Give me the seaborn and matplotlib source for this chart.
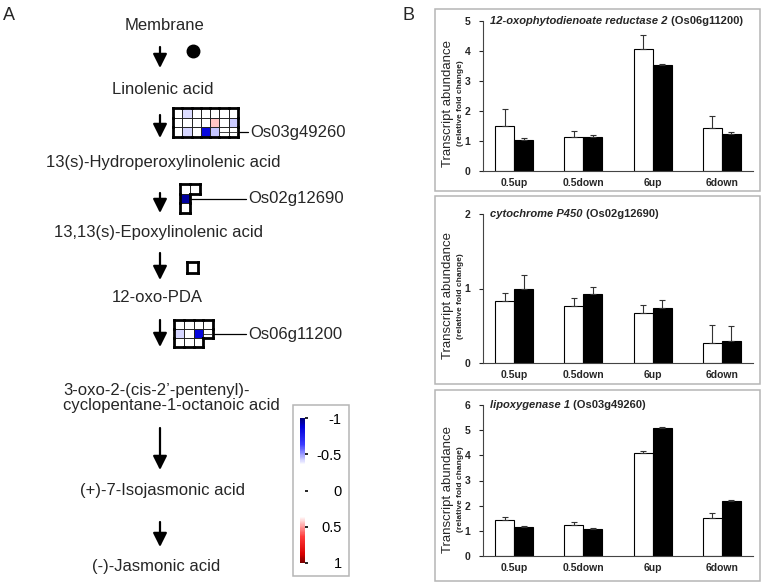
import numpy as np
import pandas as pd
import matplotlib
matplotlib.use('Agg')
import matplotlib.pyplot as plt
import seaborn as sns
from matplotlib.colors import LinearSegmentedColormap
from matplotlib.patches import Rectangle

W, H = 764, 585

# ---- panel B data ----
groups = ['0.5up', '0.5down', '6up', '6down']

opr2_open = [1.50, 1.12, 4.08, 1.42]
opr2_filled = [1.04, 1.14, 3.53, 1.22]
opr2_open_err = [0.58, 0.23, 0.44, 0.40]
opr2_filled_err = [0.06, 0.06, 0.04, 0.08]

p450_open = [0.83, 0.77, 0.67, 0.27]
p450_filled = [1.00, 0.93, 0.74, 0.30]
p450_open_err = [0.11, 0.10, 0.11, 0.24]
p450_filled_err = [0.18, 0.09, 0.10, 0.19]

lox1_open = [1.43, 1.24, 4.08, 1.52]
lox1_filled = [1.15, 1.08, 5.08, 2.17]
lox1_open_err = [0.12, 0.12, 0.10, 0.18]
lox1_filled_err = [0.03, 0.04, 0.04, 0.07]

gene_names = ['12-oxophytodienoate reductase 2', 'cytochrome P450', 'lipoxygenase 1']
gene_ids = ['Os06g11200', 'Os02g12690', 'Os03g49260']
y_max = [5, 2, 6]

# ---- panel A data ----
pathway = ['Membrane', 'Linolenic acid', '13(s)-Hydroperoxylinolenic acid',
           '13,13(s)-Epoxylinolenic acid', '12-oxo-PDA',
           '3-oxo-2-(cis-2\u2019-pentenyl)-\ncyclopentane-1-octanoic acid',
           '(+)-7-Isojasmonic acid', '(-)-Jasmonic acid']

grid_os03g49260 = [[0, -0.41, 0, 0, 0, 0, 0],
                   [0, 0, 0, 0, 0.44, 0, -0.43],
                   [0, -0.42, 0, -0.85, -0.44, 0, 0]]
grid_os02g12690 = [[0, 0],
                   [-0.95, np.nan],
                   [0, np.nan]]
grid_aos = [[0]]
grid_os06g11200 = [[0, 0, 0, 0],
                   [-0.42, 0, -0.85, 0],
                   [0, 0, 0, np.nan]]
cbar_ticks = [-1, -0.5, 0, 0.5, 1]

sns.set_theme(style='white')
plt.rcParams['font.family'] = ['Liberation Sans', 'DejaVu Sans']

fig = plt.figure(figsize=(7.64, 5.85), dpi=100)


def px_axes(x0, y0, x1, y1):
    return fig.add_axes([x0 / W, 1 - y1 / H, (x1 - x0) / W, (y1 - y0) / H])


# overlay in pixel coordinates for the pathway drawing and frames
ov = fig.add_axes([0, 0, 1, 1])
ov.set_xlim(0, W)
ov.set_ylim(H, 0)
ov.axis('off')

ov.text(9, 16, 'A', fontsize=13, ha='center', va='center')
ov.text(408, 16, 'B', fontsize=13, ha='center', va='center')

# pathway compounds
fs = 12
text_pos = [(164, 26), (163, 89), (163, 162), (158, 233), (157, 297),
            (63, 398), (162, 490), (156, 567)]
for name, (x, y) in zip(pathway, text_pos):
    if '\n' in name:
        ov.text(x, y, name, fontsize=fs, ha='left', va='center',
                multialignment='left', linespacing=1.05)
    else:
        ov.text(x, y, name, fontsize=fs, ha='center', va='center')

arrows = [(47, 68), (115, 138), (193, 213), (253, 280), (320, 347),
          (428, 470), (522, 547)]
for y0, y1 in arrows:
    ov.annotate('', xy=(160, y1), xytext=(160, y0),
                arrowprops=dict(arrowstyle='-|>,head_length=0.6,head_width=0.3',
                                color='black', lw=1.6, shrinkA=0, shrinkB=0,
                                mutation_scale=14))

ov.plot([193], [51], 'o', color='black', ms=9)

# gene labels with connector lines
for (x0, x1, y, label) in [(238, 248, 132, 'Os03g49260'),
                           (190, 246, 199, 'Os02g12690'),
                           (213, 246, 334, 'Os06g11200')]:
    ov.plot([x0, x1], [y, y], color='black', lw=0.9)
    ov.text(x1 + 2, y, label, fontsize=fs, ha='left', va='center')

# panel frames
for (x0, y0, x1, y1) in [(435, 9, 760, 191), (435, 196, 760, 384),
                         (435, 390, 760, 581), (293, 405, 349, 576)]:
    ov.add_patch(Rectangle((x0, y0), x1 - x0, y1 - y0, fill=False,
                           edgecolor='#b5b5b5', lw=1.1))

cmap = LinearSegmentedColormap.from_list('bw_r', [
    (0.0, '#00007a'), (0.06, '#0000d8'), (0.18, '#3a3aff'), (0.3, '#e4e4ff'),
    (0.32, '#ffffff'), (0.68, '#ffffff'), (0.7, '#ffe4e4'), (0.82, '#ff3a3a'),
    (0.94, '#d80000'), (1.0, '#7a0000')])


def draw_grid(box, values, splits=(), cbar_ax=None):
    ax = px_axes(*box)
    data = np.array(values, dtype=float)
    mask = np.isnan(data)
    sns.heatmap(data, ax=ax, cmap=cmap, vmin=-1, vmax=1, mask=mask,
                linewidths=0, cbar=cbar_ax is not None, cbar_ax=cbar_ax,
                cbar_kws={'ticks': cbar_ticks} if cbar_ax is not None else None,
                xticklabels=False, yticklabels=False)
    ax.set_facecolor('none')
    nr, nc = data.shape

    def empty(rr, cc):
        return rr < 0 or cc < 0 or rr >= nr or cc >= nc or mask[rr, cc]

    kw = dict(color='black', lw=2.0, clip_on=False, solid_capstyle='projecting')
    for r in range(nr):
        for c in range(nc):
            if mask[r, c]:
                continue
            ax.add_patch(Rectangle((c, r), 1, 1, fill=False, edgecolor='#222222',
                                   lw=0.6, clip_on=False))
            if empty(r - 1, c):
                ax.plot([c, c + 1], [r, r], **kw)
            if empty(r + 1, c):
                ax.plot([c, c + 1], [r + 1, r + 1], **kw)
            if empty(r, c - 1):
                ax.plot([c, c], [r, r + 1], **kw)
            if empty(r, c + 1):
                ax.plot([c + 1, c + 1], [r, r + 1], **kw)
    for (r, c0, c1) in splits:
        ax.plot([c0, c1], [r + 0.5, r + 0.5], color='#222222', lw=0.6)
    return ax


cax = px_axes(300, 418, 305, 563)
g1 = draw_grid((173, 108, 238, 137), grid_os03g49260, splits=[(2, 5, 7)], cbar_ax=cax)
draw_grid((180, 184, 200, 213), grid_os02g12690)
draw_grid((187, 262, 198, 273), grid_aos)
draw_grid((174, 320, 213, 347), grid_os06g11200, splits=[(1, 3, 4)])

cbar = g1.collections[0].colorbar
cbar.outline.set_visible(False)
cax.invert_yaxis()
cbar.set_ticklabels(['-1', '-0.5', '0', '0.5', '1'])
cax.tick_params(length=2.5, width=1.2, pad=24, labelsize=10.5, colors='black')
for lab in cax.get_yticklabels():
    lab.set_horizontalalignment('right')

# ---- panel B bar charts ----
opens = [opr2_open, p450_open, lox1_open]
filleds = [opr2_filled, p450_filled, lox1_filled]
open_errs = [opr2_open_err, p450_open_err, lox1_open_err]
filled_errs = [opr2_filled_err, p450_filled_err, lox1_filled_err]
boxes = [(483, 21, 753, 171), (483, 214, 753, 363), (483, 405, 753, 556)]
label_y = [0.45, 0.45, 0.44]

for i in range(3):
    ax = px_axes(*boxes[i])
    df = pd.DataFrame({'group': groups * 2,
                       'series': ['open'] * 4 + ['filled'] * 4,
                       'value': opens[i] + filleds[i]})
    sns.barplot(data=df, x='group', y='value', hue='series',
                hue_order=['open', 'filled'],
                palette={'open': 'white', 'filled': 'black'},
                edgecolor='black', linewidth=0.8, width=0.55,
                errorbar=None, legend=False, ax=ax)
    bars = sorted(ax.patches, key=lambda p: p.get_x())
    xs = [p.get_x() + p.get_width() / 2 for p in bars]
    vals, errs = [], []
    for k in range(4):
        vals += [opens[i][k], filleds[i][k]]
        errs += [open_errs[i][k], filled_errs[i][k]]
    ax.errorbar(xs, vals, yerr=[np.zeros(len(errs)), errs], fmt='none',
                ecolor='#333333', elinewidth=0.8, capsize=2.5, capthick=0.8)
    ax.set_ylim(0, y_max[i])
    ax.set_yticks(range(y_max[i] + 1))
    ax.set_xlabel('')
    ax.set_ylabel('')
    sns.despine(ax=ax)
    for s in ['left', 'bottom']:
        ax.spines[s].set_color('#444444')
        ax.spines[s].set_linewidth(0.8)
    ax.tick_params(axis='y', length=3, width=0.8, direction='out', pad=6,
                   left=True, labelsize=7.5)
    ax.tick_params(axis='x', length=0, pad=5, labelsize=7.5)
    for lab in ax.get_xticklabels() + ax.get_yticklabels():
        lab.set_fontweight('bold')
    t = ax.text(0.026, 1.0, gene_names[i], transform=ax.transAxes,
                fontsize=8, style='italic', fontweight='bold',
                ha='left', va='center')
    ax.annotate(' (' + gene_ids[i] + ')', xy=(1, 0), xycoords=t,
                fontsize=8, fontweight='bold', ha='left', va='bottom')
    ax.text(-0.13, label_y[i], 'Transcript abundance', transform=ax.transAxes,
            rotation=90, fontsize=9.5, ha='center', va='center')
    ax.text(-0.082, label_y[i], '(relative fold change)', transform=ax.transAxes,
            rotation=90, fontsize=6, fontweight='bold', ha='center', va='center')

fig.savefig('out.png', dpi=100)
